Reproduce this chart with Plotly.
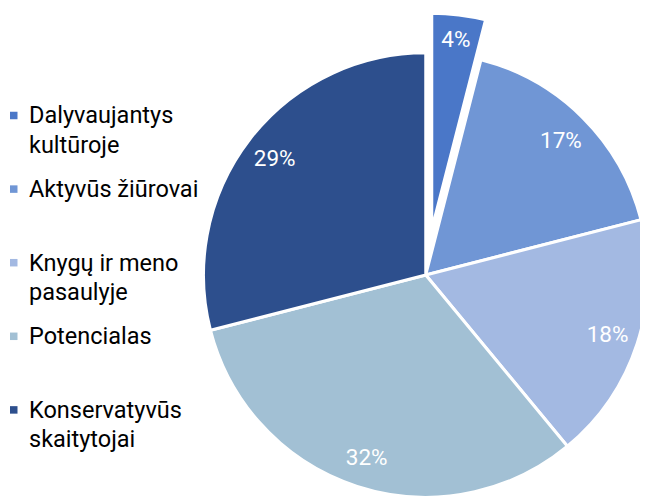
import math
import plotly.graph_objects as go

# ---- data ----
labels = ["Dalyvaujantys<br>kultūroje", "Aktyvūs žiūrovai", "Knygų ir meno<br>pasaulyje",
          "Potencialas", "Konservatyvūs<br>skaitytojai"]
values = [4, 17, 18, 32, 29]
colors = ["#4a77c8", "#7096d5", "#a3b9e2", "#a2c0d4", "#2d4f8d"]
pulled = [True, False, False, False, False]

# page is offset by the browser's 8px body margin
OFF = 8
W, H = 640, 490
FONT = "Roboto"
total = sum(values)
pct = [f"{v / total:.0%}" for v in values]
CLEAR = "rgba(0,0,0,0)"

# pie geometry (page pixels)
cx, cy, r = 426.0, 275.0, 222.5
pull_px = 46.0
HOLE = 0.72  # label ring: labels sit near the outer edge, like the reference


def clamp(v):
    return min(1.0, max(0.0, v))


def px(x):
    return (x - OFF) / W


def py(y):
    return 1 - (y - OFF) / H


def domain(cxp, cyp, rr):
    return dict(x=[clamp(px(cxp - rr)), clamp(px(cxp + rr))],
                y=[clamp(py(cyp + rr)), clamp(py(cyp - rr))])


def add_pie(fig, dom, fill_colors, line_w, texts):
    common = dict(labels=labels, values=values, sort=False, direction="clockwise",
                  rotation=0, domain=dom, showlegend=False)
    # filled slices
    fig.add_trace(go.Pie(
        **common,
        marker=dict(colors=fill_colors, line=dict(color="white", width=line_w)),
        textinfo="none", hoverinfo="label+percent",
    ))
    # percentage labels placed in an outer ring
    fig.add_trace(go.Pie(
        **common, hole=HOLE,
        marker=dict(colors=[CLEAR] * len(values), line=dict(width=0)),
        text=texts, textinfo="text", textposition="inside",
        insidetextorientation="horizontal",
        textfont=dict(family=FONT, size=22.5, color="white"),
        hoverinfo="skip",
    ))


fig = go.Figure()

# main pie (non-pulled slices)
add_pie(fig, domain(cx, cy, r),
        [CLEAR if p else c for p, c in zip(pulled, colors)],
        [0 if p else 3 for p in pulled],
        ["" if p else t for p, t in zip(pulled, pct)])

# pulled slice(s): same pie, offset along the slice's mid-angle
start = 0.0
for i, (v, p) in enumerate(zip(values, pulled)):
    ang = (start + v / 2) / total * 2 * math.pi
    start += v
    if not p:
        continue
    pcx = cx + pull_px * math.sin(ang)
    pcy = cy - pull_px * math.cos(ang)
    rb = min(r, OFF + W - pcx)  # keep the offset pie inside the paper
    add_pie(fig, domain(pcx, pcy, rb),
            [c if j == i else CLEAR for j, c in enumerate(colors)],
            [3 if j == i else 0 for j in range(len(values))],
            [t if j == i else "" for j, t in enumerate(pct)])

# legend (Excel-like layout)
leg_y0, leg_step, line_gap = 115.5, 73.6, 29.0
sq = 7.5
sq_x, txt_x = 10.0, 27.3
shapes, annotations = [], []
for k, (lab, col) in enumerate(zip(labels, colors)):
    yc = leg_y0 + k * leg_step
    shapes.append(dict(type="rect", xref="paper", yref="paper",
                       x0=px(sq_x), x1=px(sq_x + sq),
                       y0=py(yc + sq / 2), y1=py(yc - sq / 2),
                       fillcolor=col, line=dict(width=0)))
    for n, line in enumerate(lab.split("<br>")):
        annotations.append(dict(xref="paper", yref="paper", x=px(txt_x),
                                y=py(yc + n * line_gap),
                                xanchor="left", yanchor="middle", align="left",
                                text=line, showarrow=False,
                                font=dict(family=FONT, size=23.5, color="#000000")))

fig.update_layout(
    width=W, height=H, margin=dict(l=0, r=0, t=0, b=0),
    paper_bgcolor="white", plot_bgcolor="white",
    shapes=shapes, annotations=annotations,
    font=dict(family=FONT),
)

fig.write_html("out.html")
